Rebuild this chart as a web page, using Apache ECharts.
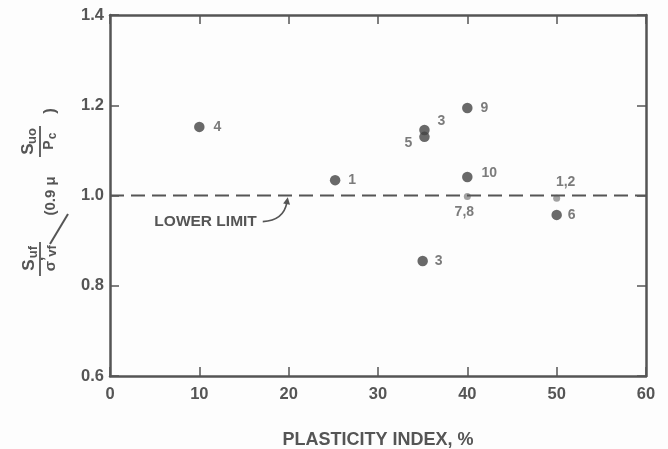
<!DOCTYPE html>
<html>
<head>
<meta charset="utf-8">
<script src="https://cdn.jsdelivr.net/npm/echarts@6/dist/echarts.min.js"></script>
<style>
html,body{margin:0;padding:0;background:#fdfdfd;}
#chart{width:668px;height:449px;}
</style>
</head>
<body>
<div id="chart"></div>
<script>
// ---- data ----
const plasticityIndex = [10, 25.2, 40, 35.2, 35.2, 40, 40, 50, 50, 35];
const strengthRatio  = [1.152, 1.034, 1.194, 1.145, 1.13, 1.041, 0.998, 0.994, 0.957, 0.855];
const pointLabels    = ['4', '1', '9', '3', '5', '10', '7,8', '1,2', '6', '3'];
const xTicks = [0, 10, 20, 30, 40, 50, 60];
const yTicks = [0.6, 0.8, 1.0, 1.2, 1.4];
const lowerLimit = 1.0;
const annotationText = 'LOWER LIMIT';
const annotationAnchor = [10.7, 0.941];   // text centre (data units)
const arrowFrom = [17.1, 0.942];
const arrowTo = [19.9, 0.996];

// ---- styling (separate from data) ----
const INK = '#555555';
const FONT = '"Liberation Sans", Arial, sans-serif';
const labelOffsets = {
  0: [18, 0], 1: [17, 0], 2: [17, 0], 3: [17, -9], 4: [-16, 6],
  5: [22, -4], 6: [-3, 16], 7: [9, -16], 8: [15, 0], 9: [16, 0]
};
const faint = {6: true, 7: true};

const scatterData = plasticityIndex.map((x, i) => ({
  value: [x, strengthRatio[i]],
  symbolSize: faint[i] ? 7 : 10.5,
  itemStyle: {color: faint[i] ? '#8a8a8a' : '#444'},
  label: {
    show: true, formatter: pointLabels[i], position: 'inside',
    offset: labelOffsets[i], color: '#5a5a5a', fontSize: 14, fontWeight: 'bold',
    fontFamily: FONT
  }
}));

const axisBase = {
  type: 'value',
  axisLine: {show: true, onZero: false, lineStyle: {color: INK, width: 2.5}},
  axisTick: {show: true, inside: true, length: 9, lineStyle: {color: INK, width: 1.5}},
  splitLine: {show: false}
};
const tickFont = {color: INK, fontSize: 16.5, fontWeight: 'bold', fontFamily: FONT};

const chart = echarts.init(document.getElementById('chart'));
const txt = (text, x, y, size) => ({
  type: 'text', x: x, y: y,
  style: {text: text, fill: INK, fontSize: size, fontWeight: 'bold', fontFamily: FONT,
          align: 'center', verticalAlign: 'middle'}
});
const bar = (x1, x2, y) => ({type: 'line', shape: {x1: x1, y1: y, x2: x2, y2: y}, style: {stroke: INK, lineWidth: 1.8}});

chart.setOption({
  animation: false,
  backgroundColor: '#fdfdfd',
  grid: {left: 110, right: 22, top: 15, bottom: 73, containLabel: false, outerBoundsMode: 'none'},
  xAxis: [
    Object.assign({}, axisBase, {
      position: 'bottom', min: xTicks[0], max: xTicks[xTicks.length - 1], interval: 10,
      axisLabel: Object.assign({}, tickFont, {margin: 10}),
      name: 'PLASTICITY INDEX, %', nameLocation: 'middle', nameGap: 55,
      nameTextStyle: {color: INK, fontSize: 18, fontWeight: 'bold', fontFamily: FONT}
    }),
    Object.assign({}, axisBase, {
      position: 'top', min: xTicks[0], max: xTicks[xTicks.length - 1], interval: 10,
      axisLabel: {show: false}
    })
  ],
  yAxis: [
    Object.assign({}, axisBase, {
      position: 'left', min: yTicks[0], max: yTicks[yTicks.length - 1], interval: 0.2,
      axisLabel: Object.assign({}, tickFont, {margin: 6, formatter: v => v.toFixed(1)})
    }),
    Object.assign({}, axisBase, {
      position: 'right', min: yTicks[0], max: yTicks[yTicks.length - 1], interval: 0.2,
      axisLabel: {show: false}
    })
  ],
  series: [
    {
      type: 'line',
      data: [[xTicks[0], lowerLimit], [xTicks[xTicks.length - 1], lowerLimit]],
      symbol: 'none', silent: true,
      lineStyle: {color: INK, width: 2, type: [14, 7]},
      markPoint: {
        symbol: 'circle', symbolSize: 1, silent: true,
        itemStyle: {color: 'rgba(0,0,0,0)'},
        label: {show: true, position: 'inside', color: INK, fontSize: 15.5, fontWeight: 'bold',
                fontFamily: FONT, formatter: annotationText},
        data: [{coord: annotationAnchor}]
      }
    },
    {
      type: 'scatter',
      data: scatterData,
      symbol: 'circle'
    }
  ]
});

// y-axis title (rotated formula) + curved arrow, arrow located through the axis scales
const p0 = chart.convertToPixel({gridIndex: 0}, arrowFrom);
const p1 = chart.convertToPixel({gridIndex: 0}, arrowTo);
const cp = [p1[0] - 4, p0[1] - 1];
const dx = p1[0] - cp[0], dy = p1[1] - cp[1];
const len = Math.hypot(dx, dy), ux = dx / len, uy = dy / len;
const ah = 7, aw = 3.5;
const base = [p1[0] - ux * ah, p1[1] - uy * ah];
chart.setOption({
  graphic: [
    {
      type: 'group', x: 48, y: 190, rotation: Math.PI / 2,
      children: [
        txt('S', -75, -19, 17), txt('uf', -62, -15, 13),
        bar(-86, -52, -8),
        txt('\u03c3', -76, 3, 15), txt('\u2019', -69, -1, 15), txt('vf', -61, 4, 13),
        txt('(0.9 \u03bc', -6, 3, 15),
        txt('S', 41, -20, 17), txt('uo', 54, -16, 13),
        bar(33, 64, -8),
        txt('P', 45, 1, 14), txt('c', 54, 5, 12),
        txt(')', 79, 2, 17)
      ]
    },
    {type: 'line', shape: {x1: 50, y1: 244, x2: 68, y2: 214}, style: {stroke: INK, lineWidth: 2}},
    {type: 'bezierCurve', shape: {x1: p0[0], y1: p0[1], cpx1: cp[0], cpy1: cp[1], x2: base[0] + ux * 2, y2: base[1] + uy * 2},
     style: {stroke: INK, lineWidth: 1.6, fill: null}},
    {type: 'polygon', shape: {points: [
      [p1[0], p1[1]],
      [base[0] - uy * aw, base[1] + ux * aw],
      [base[0] + uy * aw, base[1] - ux * aw]
    ]}, style: {fill: INK}}
  ]
});
</script>
</body>
</html>
